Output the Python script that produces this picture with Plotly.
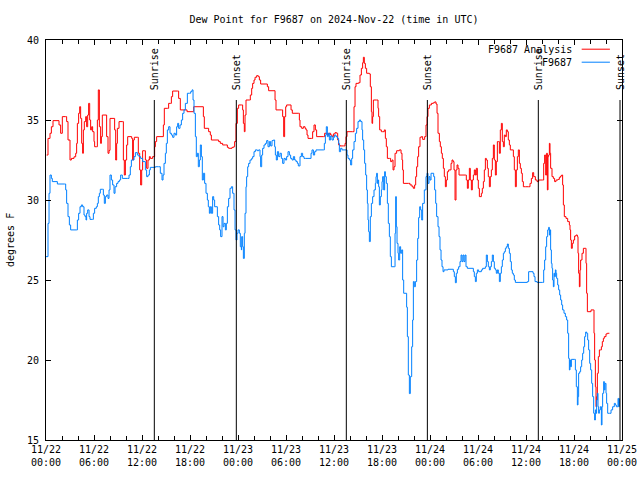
import pandas as pd
import plotly.graph_objects as go

BASE = pd.Timestamp("2024-11-22 00:00")

# hours since 2024-11-22 00:00 UTC, dew point in degrees F
red_h = [0.08, 0.25, 0.5, 0.67, 0.875, 1.5, 1.625, 1.83, 2.04, 2.46, 2.58, 2.75, 3.0, 3.17, 3.5, 3.71, 3.83, 3.92, 4.08, 4.21, 4.33, 4.46, 4.58, 4.67, 4.79, 4.96, 5.08, 5.21, 5.33, 5.46, 5.58, 5.71, 5.83, 6.0, 6.08, 6.33, 6.42, 6.54, 6.67, 6.83, 6.92, 7.04, 7.5, 7.58, 7.75, 7.88, 8.0, 8.5, 8.58, 8.71, 8.83, 8.92, 9.13, 9.54, 9.67, 9.79, 9.92, 10.08, 10.21, 10.5, 10.71, 10.83, 10.92, 11.04, 11.42, 11.54, 11.71, 11.83, 11.96, 12.08, 12.25,
         12.33, 12.42, 12.58, 12.75, 12.92, 13.04, 13.33, 13.5, 13.58, 13.67, 13.83, 14.5, 14.67, 14.79, 15.17, 15.33, 15.54, 15.67, 15.83, 16.42, 16.58, 16.79, 17.42, 17.63, 18.25, 18.46, 19.5, 19.67, 19.79, 20.13, 20.33, 20.54, 20.67, 21.58, 21.79, 22.08, 22.42, 22.67, 22.83, 23.25, 23.46, 23.58, 23.75, 23.92, 24.08,
         24.25, 24.46, 24.58, 24.67, 24.79, 24.88, 25.0, 25.42, 25.54, 25.71, 25.83, 26.0, 26.13, 26.33, 26.54, 26.67, 26.83, 27.5, 27.67, 27.83, 28.5, 28.63, 28.75, 29.46, 29.58, 29.71, 29.83, 29.96, 30.08, 30.5, 30.63, 30.79, 31.54, 31.67, 31.75, 31.96, 32.17, 32.38, 32.5, 32.63, 32.75, 33.21, 33.33, 33.5, 33.67, 33.83, 34.67, 34.83, 35.0, 35.17, 35.33, 35.58, 35.75, 35.92, 36.13, 36.33, 36.46, 36.58, 36.75, 37.17, 37.38, 37.5,
         37.63, 38.33, 38.5, 38.63, 38.75, 39.08, 39.25, 39.42, 39.58, 39.67, 39.79, 39.92, 40.08, 40.42, 40.54, 40.67, 40.75, 40.83, 40.92, 41.33, 41.5, 41.58, 41.71, 41.92, 42.08, 42.29, 42.42, 42.54, 42.67, 42.92, 43.08, 43.25, 43.38, 43.5, 43.63, 43.83, 44.17, 44.38, 44.5, 44.58, 44.67, 45.0, 45.33, 45.5, 45.75, 45.92, 46.08, 46.21, 46.33, 46.46, 46.58, 46.75, 46.92, 47.08, 47.33, 47.5, 47.63, 47.75, 47.92, 48.17, 48.42,
         48.58, 48.75, 48.88, 49.0, 49.17, 49.29, 49.42, 49.54, 49.67, 49.79, 49.92, 50.04, 50.17, 50.33, 50.5, 50.63, 50.75, 50.88, 51.0, 51.13, 51.25, 51.38, 51.5, 51.63, 52.42, 52.54, 52.67, 52.79, 52.92, 53.04, 53.17, 53.29, 53.42, 53.54, 53.67, 53.79, 53.92, 54.04, 54.17, 54.42, 54.54, 54.67, 54.79, 54.92, 55.04, 55.17, 55.29, 55.42, 55.54, 55.67, 55.79, 55.92, 56.04, 56.17, 56.29, 56.42, 56.54, 56.67, 56.79, 56.92, 57.04, 57.17, 57.29, 57.42, 57.54, 57.67, 57.79, 57.92, 58.04, 58.25, 58.42, 58.54, 58.67, 58.79, 58.92, 59.04, 59.17, 59.29, 59.42, 59.54, 59.67, 59.92, 60.33, 60.5, 60.67, 60.83, 60.96, 61.17, 61.38,
         61.58, 62.08, 62.21, 62.33, 62.46, 62.58, 62.67, 62.75, 62.83, 62.92, 63.0, 63.08, 63.25, 63.42, 63.58, 63.75, 64.0, 64.17, 64.33, 64.46, 64.58, 64.67, 64.79, 65.0, 65.21, 65.42, 65.5, 65.58, 65.67, 65.79, 65.92, 66.08, 66.25, 66.42, 66.5, 66.58, 66.67, 66.75, 66.83, 67.0, 67.17, 67.42, 67.5, 67.58, 67.67, 68.13, 68.42, 68.5, 68.58, 68.67, 68.75, 68.83, 68.92, 69.04, 69.17, 69.29, 69.42, 69.54, 69.67, 69.79, 70.0, 70.17, 70.42]
red_v = [32.81, 33.85, 34.17, 34.58, 34.96, 34.96, 34.69, 34.17, 35.21, 35.21, 34.9, 33.75, 32.5, 32.6, 32.7, 32.92, 33.54, 34.79, 35.42, 35.83, 35.1, 33.54, 32.92, 34.38, 34.9, 35.21, 34.58, 35.31, 36.04, 35.0, 34.38, 34.58, 34.27, 33.65, 33.33, 33.33, 35.0, 36.88, 34.58, 33.54, 33.96, 35.31, 35.31, 33.96, 32.92, 33.1, 35.1, 35.1, 34.38, 32.5, 33.54, 34.48, 34.9, 34.9, 32.5, 31.56, 32.5, 33.44, 33.96, 33.96, 33.85, 32.5, 33.75, 33.92, 33.92, 32.92, 31.88, 30.94, 31.88, 33.08, 33.08,
         33.08, 32.5, 31.98, 32.5, 32.71, 32.6, 32.71, 32.71, 33.33, 33.65, 33.96, 33.96, 34.69, 35.73, 35.73, 36.04, 36.04, 36.46, 36.81, 36.81, 36.35, 35.63, 35.63, 35.52, 35.52, 35.83, 35.83, 35.21, 34.48, 34.48, 34.27, 34.06, 33.75, 33.65, 33.54, 33.44, 33.44, 33.29, 33.23, 33.29, 33.33, 33.65, 34.79, 35.73, 35.94,
         35.94, 35.94, 35.63, 34.79, 34.27, 35.31, 36.25, 36.25, 36.56, 36.98, 37.29, 37.5, 37.67, 37.77, 37.71, 37.5, 37.25, 37.25, 37.08, 36.83, 36.83, 36.25, 35.63, 35.63, 35.21, 33.96, 35.21, 35.83, 35.94, 35.94, 35.63, 35.42, 35.42, 35.0, 34.58, 34.48, 34.58, 34.48, 34.38, 34.06, 33.85, 33.85, 34.27, 34.69, 34.38, 33.96, 33.96, 34.17, 34.17, 34.06, 34.17, 34.06, 33.96, 34.13, 34.21, 34.17, 33.75, 33.44, 33.38, 33.38, 33.54, 33.96,
         34.27, 34.27, 35.83, 37.08, 37.29, 37.33, 37.81, 38.23, 38.58, 38.92, 38.54, 38.23, 37.92, 37.88, 37.08, 35.52, 34.79, 35.21, 36.25, 36.25, 35.73, 35.21, 34.38, 34.27, 34.27, 34.38, 33.85, 33.33, 32.6, 32.6, 32.4, 32.5, 31.88, 32.08, 32.92, 33.08, 33.13, 32.92, 32.5, 31.88, 31.04, 31.04, 31.04, 30.94, 30.83, 30.73, 30.94, 31.46, 32.08, 32.71, 33.33, 33.92, 33.96, 33.79, 33.96, 34.69, 35.21, 35.73, 35.94, 36.04, 36.08,
         36.13, 36.0, 35.42, 34.17, 33.65, 33.33, 32.92, 32.6, 31.98, 31.46, 30.83, 31.25, 31.77, 31.88, 31.88, 32.29, 32.5, 32.4, 31.88, 30.0, 31.88, 32.19, 31.98, 31.56, 31.56, 31.25, 30.73, 31.25, 31.98, 31.25, 30.63, 31.25, 31.56, 31.88, 31.56, 31.98, 31.25, 30.73, 30.21, 30.42, 30.73, 31.15, 31.88, 32.6, 32.5, 31.98, 31.46, 30.83, 31.46, 31.88, 32.6, 33.44, 32.5, 31.56, 32.4, 33.65, 33.65, 32.92, 34.38, 34.79, 33.65, 33.33, 34.06, 33.96, 34.38, 34.27, 33.75, 33.44, 33.13, 33.13, 32.71, 31.88, 30.83, 31.88, 32.71, 33.13, 32.29, 31.98, 31.67, 31.15, 30.83, 30.83, 30.83, 31.04, 31.35, 31.71, 31.46, 31.25, 31.15,
         31.25, 31.25, 32.29, 32.81, 31.56, 32.92, 30.63, 32.71, 32.81, 33.54, 32.92, 31.98, 31.46, 31.35, 31.15, 31.25, 31.29, 31.42, 31.5, 31.56, 30.94, 29.69, 28.96, 28.85, 28.65, 28.44, 28.13, 27.5, 26.98, 27.29, 27.5, 27.75, 27.81, 27.71, 26.67, 25.42, 24.58, 25.63, 26.25, 26.67, 26.98, 26.98, 26.04, 24.17, 23.02, 23.13, 23.13, 21.67, 20.0, 18.33, 17.08, 17.71, 19.17, 20.21, 20.63, 20.63, 20.83, 21.15, 21.35, 21.46, 21.63, 21.67, 21.67]

blue_h = [0.0, 0.25, 0.38, 0.5, 0.67, 0.79, 1.42, 2.33, 2.46, 2.58, 2.75, 2.92, 3.08, 3.79, 3.92, 4.08, 4.25, 4.42, 4.58, 4.75, 4.88, 5.0, 5.08, 5.21, 5.38, 5.5, 5.83, 5.92, 6.08, 6.29, 6.42, 6.54, 6.67, 6.79, 7.04, 7.17, 7.29, 7.42, 7.58, 7.75, 7.88, 8.0, 8.17, 8.33, 8.5, 8.63, 8.83, 9.0, 9.17, 9.33, 9.54, 10.17, 10.38, 10.54, 10.67, 10.83, 11.0, 11.17, 11.42, 11.63, 11.83, 12.08, 12.25,
          12.42, 12.58, 12.75, 12.92, 13.04, 13.67, 14.08, 14.29, 14.5, 14.63, 14.75, 14.92, 15.04, 15.17, 15.33, 15.5, 15.67, 15.83, 16.0, 16.17, 16.33, 16.46, 16.58, 16.75, 16.92, 17.08, 17.25, 17.42, 17.67, 17.92, 18.08, 18.25, 18.38, 18.5, 18.67, 18.79, 18.92, 19.04, 19.17, 19.29, 19.42, 19.54, 19.67, 19.83, 20.0, 20.17, 20.29, 20.42, 20.54, 20.67, 20.83, 20.96, 21.08, 21.25, 21.42, 21.58, 21.71, 21.83, 22.0, 22.13, 22.25, 22.42, 22.54, 22.67, 22.83, 23.0, 23.17, 23.33, 23.5, 23.63, 23.75, 23.88, 24.0, 24.17, 24.29, 24.42,
          24.46, 24.58, 24.67, 24.79, 24.88, 25.0, 25.08, 25.21, 25.33, 25.5, 25.71, 25.83, 26.0, 26.17, 26.42, 26.58, 26.75, 26.83, 26.96, 27.08, 27.25, 27.42, 27.58, 27.75, 27.92, 28.08, 28.25, 28.42, 28.58, 28.67, 28.79, 28.92, 29.08, 29.25, 29.42, 29.58, 29.75, 29.92, 30.08, 30.25, 30.42, 30.58, 30.75, 30.92, 31.08, 31.25, 31.42, 31.54, 31.75, 31.92, 32.08, 32.25, 32.42, 33.0, 33.13, 33.25, 33.42, 33.58, 33.75, 34.67, 34.79, 34.92, 35.04, 35.17, 35.29, 35.42, 35.58, 35.75, 35.92, 36.08, 36.25, 36.42, 36.58, 36.67, 36.83, 37.0,
          37.5, 37.63, 37.75, 37.92, 38.08, 38.21, 38.33, 38.5, 38.67, 38.83, 39.0, 39.17, 39.33, 39.5, 39.58, 39.71, 39.83, 39.96, 40.08, 40.17, 40.25, 40.33, 40.42, 40.54, 40.67, 40.83, 41.0, 41.17, 41.25, 41.33, 41.42, 41.5, 41.58, 41.67, 41.79, 41.92, 42.0, 42.08, 42.21, 42.33, 42.42, 42.54, 42.67, 42.79, 42.92, 43.04, 43.17, 43.54, 43.63, 43.71, 43.79, 43.88, 44.0, 44.08, 44.21, 44.33, 44.46, 44.58, 44.71, 45.0, 45.08, 45.17, 45.29, 45.42, 45.54, 45.71, 45.83, 45.92, 46.04, 46.17, 46.33, 46.46, 46.58, 46.71, 46.83, 46.96, 47.08, 47.29, 47.5, 47.63, 47.75, 47.88, 48.0, 48.13,
          48.25, 48.46, 48.58, 48.71, 48.83, 49.0, 49.13, 49.25, 49.38, 49.5, 49.63, 49.75, 50.0, 50.25, 50.75, 50.92, 51.04, 51.17, 51.29, 51.42, 51.58, 51.75, 51.88, 52.0, 52.13, 52.25, 52.38, 52.5, 52.67, 53.25, 53.42, 53.54, 53.67, 53.79, 53.92, 54.08, 54.42, 54.58, 54.92, 55.04, 55.17, 55.29, 55.42, 55.54, 55.67, 55.79, 55.92, 56.04, 56.17, 56.29, 56.42, 56.54, 56.67, 56.79, 56.92, 57.04, 57.17, 57.29, 57.42, 57.54, 57.67, 57.79, 57.92, 58.04, 58.17, 58.29, 58.42, 58.54, 58.67, 60.17, 60.33, 60.75, 60.88, 61.0, 61.13, 61.38,
          62.08, 62.21, 62.33, 62.46, 62.58, 62.71, 62.83, 62.92, 63.0, 63.08, 63.17, 63.25, 63.33, 63.42, 63.5, 63.58, 63.67, 63.75, 63.83, 63.96, 64.08, 64.21, 64.33, 64.46, 64.58, 64.75, 64.92, 65.08, 65.21, 65.33, 65.42, 65.5, 65.58, 65.67, 66.04, 66.17, 66.29, 66.42, 66.5, 66.58, 66.71, 66.83, 66.96, 67.08, 67.21, 67.33, 67.46, 67.58, 67.71, 67.83, 67.96, 68.08, 68.21, 68.33, 68.46, 68.58, 68.67, 68.75, 68.83, 68.92, 69.0, 69.08, 69.17, 69.29, 69.42, 69.5, 69.58, 69.71, 69.79, 69.88, 70.0, 70.08, 70.21, 70.42, 70.63, 70.83, 71.04, 71.17, 71.29, 71.42, 71.5, 71.58, 71.67]
blue_v = [26.46, 28.54, 30.42, 31.56, 31.35, 31.15, 31.0, 31.0, 30.63, 29.79, 28.96, 28.44, 28.13, 28.13, 28.75, 29.17, 29.58, 29.69, 29.58, 29.06, 28.96, 28.75, 29.17, 29.38, 28.96, 28.79, 28.79, 29.17, 29.48, 29.58, 29.79, 30.21, 30.42, 30.67, 30.67, 30.31, 29.79, 30.21, 30.31, 30.1, 30.63, 31.56, 31.25, 30.94, 30.42, 30.83, 31.04, 31.15, 31.25, 31.56, 31.35, 31.35, 31.56, 32.08, 32.5, 32.5, 32.71, 32.96, 32.81, 32.71, 32.6, 32.4, 32.4,
          31.88, 31.46, 31.56, 31.88, 32.04, 32.08, 32.08, 31.67, 31.25, 31.56, 32.29, 32.92, 33.54, 34.38, 34.58, 34.17, 34.06, 33.92, 34.17, 34.06, 34.58, 34.79, 34.48, 34.69, 35.0, 35.42, 35.63, 36.04, 36.67, 36.67, 36.77, 36.88, 36.25, 35.42, 33.96, 32.71, 32.92, 32.08, 32.5, 33.44, 32.71, 31.25, 31.67, 31.04, 30.42, 30.0, 29.58, 29.17, 29.58, 29.17, 30.21, 30.0, 29.58, 29.58, 28.96, 28.44, 28.13, 27.71, 28.96, 28.33, 28.54, 28.13, 28.54, 29.58, 30.1, 30.73, 30.83, 30.42, 29.38, 28.13, 27.5, 27.92, 28.13, 27.92, 27.08, 26.88,
          27.71, 27.08, 26.35, 27.92, 29.17, 30.83, 31.46, 32.08, 32.29, 32.5, 32.6, 32.71, 33.02, 33.13, 33.08, 33.13, 32.71, 32.08, 32.81, 33.23, 33.44, 33.54, 33.71, 33.33, 33.65, 33.38, 33.71, 33.75, 33.33, 32.81, 32.5, 33.02, 32.71, 32.92, 32.6, 32.29, 32.6, 32.5, 32.71, 33.02, 32.81, 32.6, 32.5, 32.71, 32.5, 32.4, 32.29, 32.13, 32.71, 32.92, 32.71, 32.6, 32.6, 32.6, 32.92, 33.13, 32.81, 33.02, 33.13, 33.13, 33.54, 34.06, 34.58, 33.96, 34.17, 33.75, 34.0, 33.75, 33.92, 34.06, 33.96, 33.85, 33.54, 33.02, 33.23, 33.13,
          33.13, 32.81, 32.6, 32.5, 32.19, 32.6, 33.13, 33.65, 34.17, 34.48, 34.9, 35.0, 34.9, 34.38, 33.75, 33.13, 32.29, 31.56, 30.63, 29.79, 28.75, 28.02, 27.4, 28.96, 29.79, 30.21, 30.63, 31.04, 31.46, 31.67, 31.04, 31.25, 30.83, 29.69, 30.21, 30.63, 31.15, 31.46, 30.63, 31.77, 31.46, 31.04, 29.79, 28.54, 27.71, 26.46, 25.83, 25.83, 27.92, 30.21, 28.33, 27.29, 26.67, 26.25, 27.08, 26.67, 26.88, 25.0, 24.17, 24.17, 23.3, 21.46, 19.06, 17.9, 18.96, 20.83, 22.5, 24.9, 24.58, 24.9, 26.25, 27.6, 28.9, 29.58, 29.38, 28.75, 29.79, 30.63, 31.46, 31.67, 31.04, 31.46, 31.25, 31.67,
          31.67, 31.46, 30.63, 29.79, 28.96, 28.33, 27.71, 26.88, 26.25, 25.83, 25.52, 25.63, 25.63, 25.67, 25.67, 25.52, 25.21, 24.83, 25.42, 25.67, 25.83, 26.15, 26.56, 26.15, 26.56, 26.15, 26.56, 25.83, 25.73, 25.73, 25.52, 25.21, 24.9, 25.42, 25.63, 25.52, 25.63, 25.73, 25.83, 26.56, 26.15, 25.83, 25.63, 25.83, 26.15, 26.56, 26.15, 25.73, 25.63, 25.42, 25.63, 25.42, 24.9, 25.42, 25.83, 26.25, 26.67, 26.77, 26.98, 27.08, 27.25, 26.98, 26.67, 26.15, 25.63, 25.42, 25.31, 25.0, 24.85, 24.9, 25.52, 25.52, 25.42, 25.21, 24.9, 24.85,
          24.85, 25.63, 26.25, 27.08, 27.71, 28.13, 28.29, 27.81, 28.13, 26.88, 26.04, 25.73, 25.0, 24.58, 25.42, 25.21, 25.63, 25.42, 25.1, 24.69, 24.38, 24.06, 23.75, 23.44, 23.13, 22.92, 22.71, 22.5, 21.67, 20.1, 19.38, 20.0, 19.58, 20.04, 20.04, 19.38, 18.33, 17.19, 17.71, 19.17, 19.27, 19.58, 20.0, 20.42, 20.83, 21.46, 21.75, 21.67, 21.25, 20.63, 19.79, 19.38, 18.54, 17.71, 16.67, 16.25, 16.88, 16.67, 17.5, 17.92, 17.08, 16.67, 16.88, 17.08, 15.94, 17.08, 17.92, 18.65, 18.13, 18.54, 17.92, 17.29, 16.67, 16.67, 16.88, 17.08, 17.29, 17.19, 17.08, 17.08, 17.6, 17.08, 17.6]

sun_h = [13.54, 23.79, 37.54, 47.67, 61.54, 71.75]
sun_labels = ["Sunrise", "Sunset", "Sunrise", "Sunset", "Sunrise", "Sunset"]

tick_h = [0, 6, 12, 18, 24, 30, 36, 42, 48, 54, 60, 66, 72]
tick_labels = ["11/22<br>00:00", "11/22<br>06:00", "11/22<br>12:00", "11/22<br>18:00",
               "11/23<br>00:00", "11/23<br>06:00", "11/23<br>12:00", "11/23<br>18:00",
               "11/24<br>00:00", "11/24<br>06:00", "11/24<br>12:00", "11/24<br>18:00",
               "11/25<br>00:00"]

series_names = ["F9687 Analysis", "F9687"]
series_colors = ["#ff0000", "#0080ff"]

def to_dt(hours):
    return BASE + pd.to_timedelta(hours, unit="h")

FONT = "DejaVu Sans Mono"
TXT = dict(family=FONT, size=10, color="black")

fig = go.Figure()
fig.add_trace(go.Scatter(x=to_dt(red_h), y=red_v, mode="lines", line=dict(color=series_colors[0], width=1, shape="hv"),
                         name=series_names[0], showlegend=False))
fig.add_trace(go.Scatter(x=to_dt(blue_h), y=blue_v, mode="lines", line=dict(color=series_colors[1], width=1, shape="hv"),
                         name=series_names[1], showlegend=False))

shapes = []
annotations = []
for h, lab in zip(sun_h, sun_labels):
    t = to_dt(h)
    shapes.append(dict(type="line", xref="x", yref="paper", x0=t, x1=t, y0=0, y1=0.85,
                       line=dict(color="black", width=1)))
    annotations.append(dict(text=lab, x=t, xref="x", y=0.87, yref="paper", textangle=-90,
                            xanchor="center", yanchor="bottom", showarrow=False, font=TXT))

# gnuplot-style key (text right, sample line at right)
for i, (nm, col) in enumerate(zip(series_names, series_colors)):
    yk = 0.977 - i * 0.0325
    annotations.append(dict(text=nm, x=0.917, xref="paper", y=yk, yref="paper", xanchor="right",
                            yanchor="middle", showarrow=False, font=TXT))
    shapes.append(dict(type="line", xref="paper", yref="paper", x0=0.93, x1=0.979, y0=yk, y1=yk,
                       line=dict(color=col, width=1)))

# y axis title as annotation, placed left of the tick labels
annotations.append(dict(text="degrees F", x=-36 / 576, xref="paper", y=0.5, yref="paper", textangle=-90,
                        xanchor="center", yanchor="middle", showarrow=False, font=TXT))

fig.update_layout(
    width=640, height=480,
    margin=dict(l=46, r=18, t=40, b=40, autoexpand=False),
    paper_bgcolor="white", plot_bgcolor="white",
    font=TXT,
    title=dict(text="Dew Point for F9687 on 2024-Nov-22 (time in UTC)", x=0.5, xref="paper",
               y=1 - 19 / 480, yanchor="middle", font=TXT),
    shapes=shapes, annotations=annotations,
    showlegend=False,
)
fig.update_xaxes(
    type="date", range=[to_dt(0), to_dt(72)],
    tickvals=list(to_dt(tick_h)), ticktext=tick_labels,
    ticks="inside", ticklen=5, tickcolor="black", tickwidth=1,
    minor=dict(dtick=2 * 3600 * 1000, ticks="inside", ticklen=4, tickcolor="black", tickwidth=1),
    showline=True, linecolor="black", linewidth=1, mirror="ticks",
    showgrid=False, zeroline=False, tickfont=TXT, automargin=False,
)
fig.update_yaxes(
    range=[15, 40], tickvals=[15, 20, 25, 30, 35, 40],
    ticks="inside", ticklen=5, tickcolor="black", tickwidth=1,
    showline=True, linecolor="black", linewidth=1, mirror="ticks",
    showgrid=False, zeroline=False, tickfont=TXT, automargin=False,
    ticklabelstandoff=4,
)

fig.write_html("out.html", config={"displayModeBar": False},
               post_script="document.body.style.margin='0';document.body.style.overflow='hidden';")
